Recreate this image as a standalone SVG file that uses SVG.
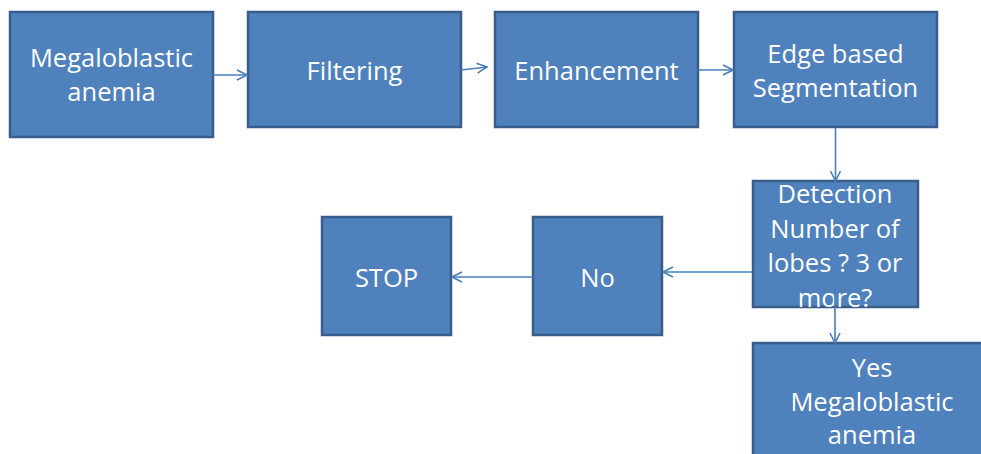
<svg xmlns="http://www.w3.org/2000/svg" width="981" height="454" viewBox="0 0 981 454">
<defs>
<style>
.box{fill:#4F81BD;stroke:#385D8A;stroke-width:2.5}
.t{font-family:"Open Sans","Liberation Sans",sans-serif;font-size:25.5px;fill:#FFFFFF;text-anchor:middle}
.c{stroke:#4A7EBB;stroke-width:1.6;fill:none}
</style>
<marker id="ar" viewBox="0 0 12 12" refX="11" refY="6" markerWidth="12" markerHeight="12" markerUnits="userSpaceOnUse" orient="auto">
<path d="M1,1 L11,6 L1,11" fill="none" stroke="#4A7EBB" stroke-width="1.6"/>
</marker>
</defs>
<rect width="981" height="454" fill="#FFFFFF"/>
<g id="n1"><rect class="box" x="10" y="12" width="203" height="125"/><text class="t" x="111.5" y="67">Megaloblastic</text><text class="t" x="111.5" y="101">anemia</text></g>
<g id="n2"><rect class="box" x="248" y="12" width="213" height="115"/><text class="t" x="354.5" y="80">Filtering</text></g>
<g id="n3"><rect class="box" x="495" y="12" width="203" height="115"/><text class="t" x="596.5" y="80">Enhancement</text></g>
<g id="n4"><rect class="box" x="734" y="12" width="203" height="115"/><text class="t" x="835.5" y="63">Edge based</text><text class="t" x="835.5" y="97">Segmentation</text></g>
<g id="n5"><rect class="box" x="753" y="181" width="165" height="126"/><text class="t" x="835" y="203">Detection</text><text class="t" x="835" y="238">Number of</text><text class="t" x="835" y="272">lobes ? 3 or</text><text class="t" x="835" y="307">more?</text></g>
<g id="n6"><rect class="box" x="533" y="217" width="129" height="118"/><text class="t" x="597.5" y="287">No</text></g>
<g id="n7"><rect class="box" x="322" y="217" width="129" height="118"/><text class="t" x="386.5" y="287">STOP</text></g>
<g id="n8"><rect class="box" x="753" y="343" width="238" height="130"/><text class="t" x="872" y="377">Yes</text><text class="t" x="872" y="411">Megaloblastic</text><text class="t" x="872" y="444">anemia</text></g>
<g id="connectors">
<line class="c" x1="213" y1="75" x2="247" y2="75" marker-end="url(#ar)"/>
<line class="c" x1="461" y1="70" x2="487" y2="67" marker-end="url(#ar)"/>
<line class="c" x1="698" y1="70" x2="733" y2="70" marker-end="url(#ar)"/>
<line class="c" x1="835.5" y1="128" x2="835.5" y2="181" marker-end="url(#ar)"/>
<line class="c" x1="753" y1="272" x2="663" y2="272" marker-end="url(#ar)"/>
<line class="c" x1="533" y1="277" x2="452" y2="277" marker-end="url(#ar)"/>
<line class="c" x1="835" y1="283" x2="835" y2="343" marker-end="url(#ar)"/>
</g>
</svg>
